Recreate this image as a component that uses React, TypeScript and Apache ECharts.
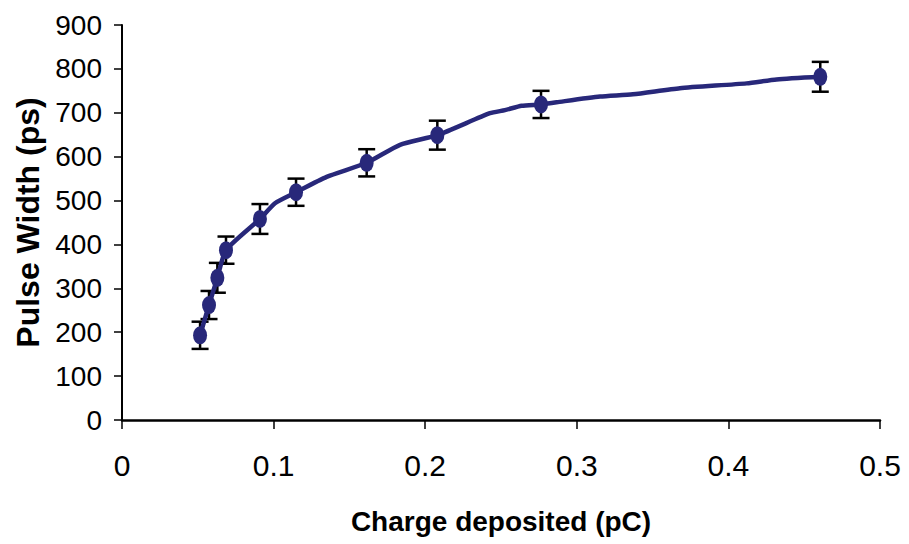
import React, { useEffect, useRef } from "react";
import * as echarts from "echarts";

// Measured points (charge deposited in pC, pulse width in ps)
const pointCharge = [0.0515, 0.0574, 0.0629, 0.0686, 0.091, 0.1148, 0.1614, 0.208, 0.2764, 0.4606];
const pointWidth = [193, 262, 324, 387, 458, 519, 586, 649, 719, 782];
const pointError = [31, 32, 34, 31, 34, 31, 31, 33, 31, 34];

// Curve drawn through the data
const curveCharge = [0.0515, 0.0574, 0.0629, 0.0686, 0.091, 0.1009, 0.1148, 0.135, 0.1614, 0.1834, 0.208, 0.2427, 0.2526, 0.2636, 0.2764, 0.2867, 0.3153, 0.337, 0.368, 0.412, 0.4318, 0.4606];
const curveWidth = [193, 262, 324, 387, 458, 494, 519, 554, 586, 627, 649, 699, 706, 716, 719, 724, 737, 742, 756, 767, 776, 782];

const xTicks = [0, 0.1, 0.2, 0.3, 0.4, 0.5];
const yTicks = [0, 100, 200, 300, 400, 500, 600, 700, 800, 900];

const FONT = "'Liberation Sans', Arial, Helvetica, sans-serif";
const NAVY = "#28287a";

export default function App() {
  const ref = useRef<HTMLDivElement>(null);

  useEffect(() => {
    if (!ref.current) return;
    const chart = echarts.init(ref.current, null, { renderer: "svg" });

    const points = pointCharge.map((x, i) => [x, pointWidth[i]]);
    const curve = curveCharge.map((x, i) => [x, curveWidth[i]]);
    const errors = pointCharge.map((x, i) => [x, pointWidth[i] - pointError[i], pointWidth[i] + pointError[i]]);

    chart.setOption({
      animation: false,
      backgroundColor: "#ffffff",
      grid: { left: 122, right: 29, top: 25, bottom: 124 },
      xAxis: {
        type: "value",
        min: xTicks[0],
        max: xTicks[xTicks.length - 1],
        interval: 0.1,
        name: "Charge deposited (pC)",
        nameLocation: "middle",
        nameGap: 87,
        nameTextStyle: { fontFamily: FONT, fontSize: 28, fontWeight: "bold", color: "#000" },
        axisLine: { show: true, onZero: false, lineStyle: { color: "#000", width: 2.5 } },
        axisTick: { show: true, inside: false, length: 9, lineStyle: { color: "#000", width: 1.5 } },
        axisLabel: {
          fontFamily: FONT,
          fontSize: 30,
          color: "#000",
          margin: 30,
          formatter: (v: number) => String(Math.round(v * 10) / 10),
        },
        splitLine: { show: false },
      },
      yAxis: {
        type: "value",
        min: yTicks[0],
        max: yTicks[yTicks.length - 1],
        interval: 100,
        name: "Pulse Width (ps)",
        nameLocation: "middle",
        nameGap: 74,
        nameRotate: 90,
        nameTextStyle: { fontFamily: FONT, fontSize: 32, fontWeight: "bold", color: "#000" },
        axisLine: { show: true, onZero: false, lineStyle: { color: "#000", width: 2 } },
        axisTick: { show: true, inside: false, length: 8, lineStyle: { color: "#000", width: 1.5 } },
        axisLabel: { fontFamily: FONT, fontSize: 28, color: "#000", margin: 20 },
        splitLine: { show: false },
      },
      series: [
        {
          type: "custom",
          name: "error",
          data: errors,
          z: 1,
          renderItem: (params: any, api: any) => {
            const x = api.value(0);
            const lo = api.coord([x, api.value(1)]);
            const hi = api.coord([x, api.value(2)]);
            const half = 8.5;
            const style = { stroke: "#000", lineWidth: 2.5 };
            return {
              type: "group",
              children: [
                { type: "line", shape: { x1: lo[0], y1: lo[1], x2: hi[0], y2: hi[1] }, style },
                { type: "line", shape: { x1: lo[0] - half, y1: lo[1], x2: lo[0] + half, y2: lo[1] }, style },
                { type: "line", shape: { x1: hi[0] - half, y1: hi[1], x2: hi[0] + half, y2: hi[1] }, style },
              ],
            };
          },
        },
        {
          type: "line",
          name: "curve",
          data: curve,
          z: 2,
          symbol: "none",
          smooth: 0.2,
          lineStyle: { color: NAVY, width: 4.5 },
        },
        {
          type: "scatter",
          name: "points",
          data: points,
          z: 3,
          symbol: "path://M1,0A1,1,0,1,1,-1,0A1,1,0,1,1,1,0Z",
          symbolSize: [14, 18],
          itemStyle: { color: NAVY, opacity: 1 },
        },
      ],
    });

    return () => chart.dispose();
  }, []);

  return (
    <div
      ref={ref}
      style={{ position: "absolute", left: 0, top: 0, width: 909, height: 544 }}
    />
  );
}
